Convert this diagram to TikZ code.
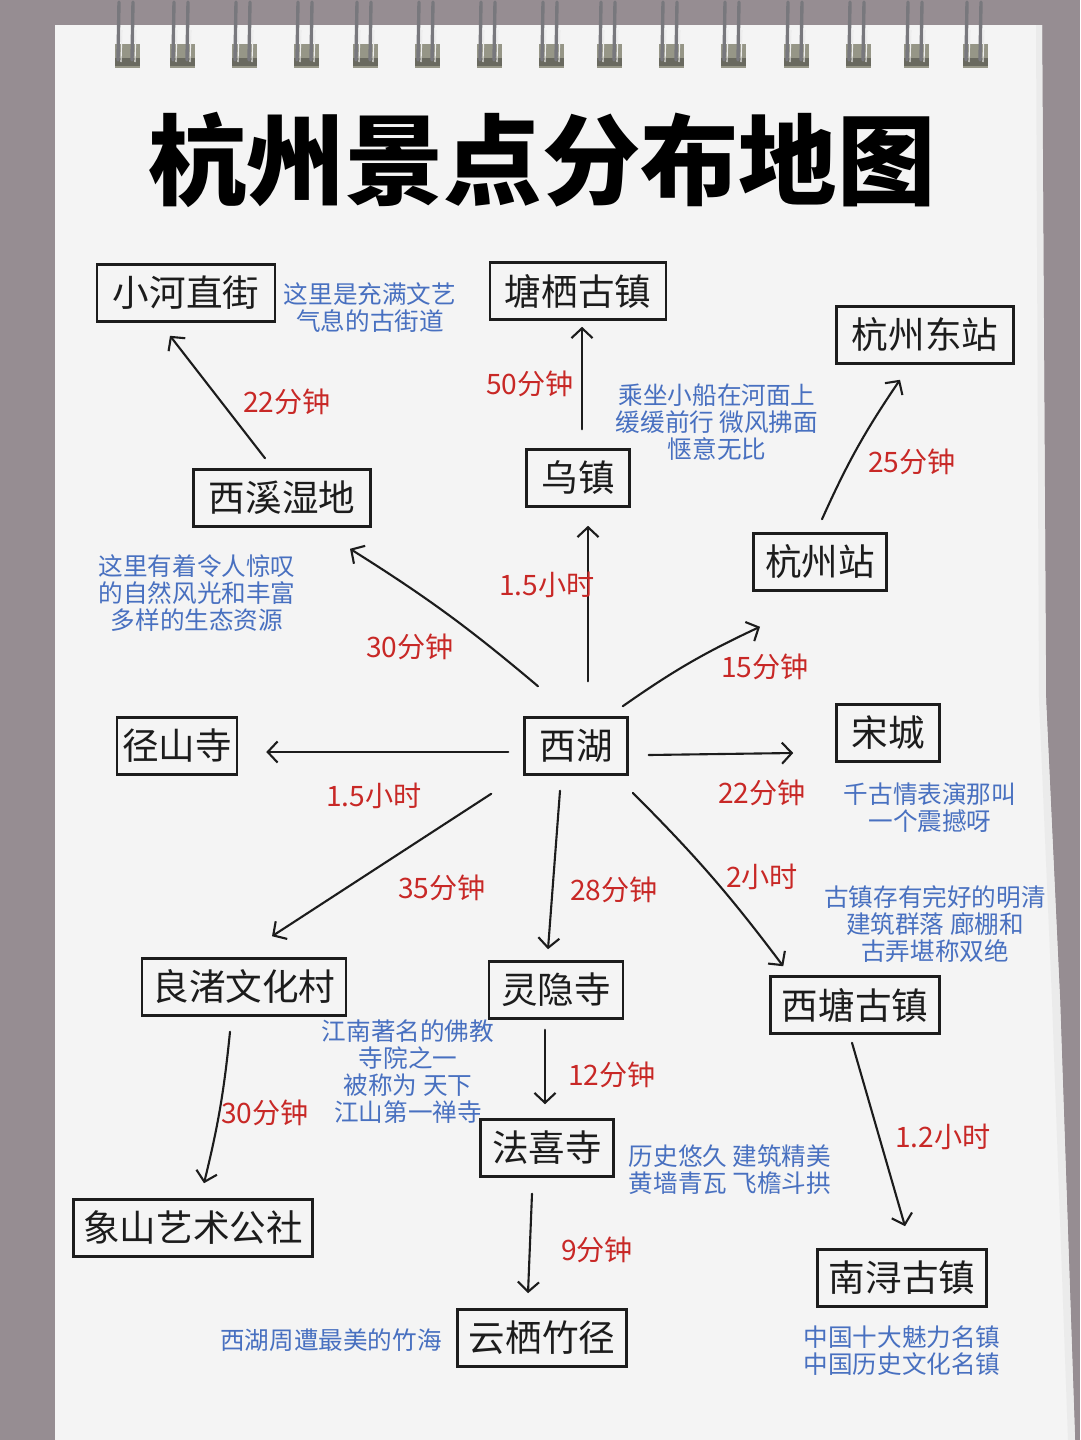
\documentclass[tikz,border=0pt]{standalone}
\usepackage{fontspec}
\setmainfont{Noto Sans CJK SC}
\usetikzlibrary{arrows.meta,calc}
\definecolor{bg}{RGB}{150,141,146}
\definecolor{paper}{RGB}{244,244,244}
\definecolor{lbred}{RGB}{200,40,38}
\definecolor{noteblue}{RGB}{72,112,192}
\definecolor{ink}{RGB}{28,28,28}
\definecolor{wirecol}{RGB}{120,120,125}
\definecolor{clipcol}{RGB}{150,150,135}
\begin{document}
\begin{tikzpicture}[x=0.025cm,y=-0.025cm,
  place/.style={draw=ink,line width=1.8pt,text=ink,font=\fontsize{26}{30}\selectfont,
    minimum height=1.425cm,inner xsep=3pt,inner ysep=2pt},
  bw/.style={minimum width={#1*0.025cm}},
  timelbl/.style={text=lbred,font=\fontsize{20}{24}\selectfont,inner sep=0pt},
  note/.style={text=noteblue,font=\fontsize{17.5}{19.2}\selectfont,align=center,inner sep=0pt},
  arr/.style={draw=ink,line width=1.5pt,line cap=round,-{Straight Barb[length=7pt,width=15pt,line width=1.5pt]}}]
% background and paper
\fill[bg] (0,0) rectangle (1080,1440);
\fill[paper] (55,25) -- (1042,25) -- (1046,700) -- (1060,1000) -- (1075,1440) -- (55,1440) -- cycle;
\fill[black!8] (1036,25) -- (1042,25) -- (1046,700) -- (1060,1000) -- (1075,1440) -- (1068,1440) -- (1052,1000) -- (1039,700) -- cycle;
% spiral rings
\foreach \rx in {128,183,245,307,366,428,490,552,610,672,734,797,859,917,976}{
  \fill[clipcol] (\rx-13,44) rectangle (\rx+12,68);
  \fill[clipcol!70!black] (\rx-13,58) rectangle (\rx+12,66);
  \draw[wirecol,line width=2.4pt,line cap=round] (\rx-9,2) -- (\rx-10,60);
  \draw[wirecol,line width=2.4pt,line cap=round] (\rx+5,2) -- (\rx+4,60);
  \draw[white!85!gray,line width=0.8pt] (\rx-6,30) -- (\rx-7,62);
  \draw[white!85!gray,line width=0.8pt] (\rx+8,30) -- (\rx+7,62);
}
% title
\node[font=\fontsize{70}{80}\selectfont\bfseries,text=black] (title) at (542,160) {杭州景点分布地图};
% places
\node[place,bw=178] (xiaohe) at (186,293) {小河直街};
\node[place,bw=176] (tangqi) at (578,291) {塘栖古镇};
\node[place,bw=177] (dongzhan) at (925,335) {杭州东站};
\node[place,bw=177] (xixi) at (282,498) {西溪湿地};
\node[place,bw=103] (wuzhen) at (578,478) {乌镇};
\node[place,bw=133] (hzzhan) at (820,562) {杭州站};
\node[place,bw=120] (jingshan) at (177,746) {径山寺};
\node[place,bw=103] (xihu) at (576,746) {西湖};
\node[place,bw=103] (songcheng) at (888,733) {宋城};
\node[place,bw=204] (liangzhu) at (244,987) {良渚文化村};
\node[place,bw=134] (lingyin) at (556,990) {灵隐寺};
\node[place,bw=169] (xitang) at (855,1005) {西塘古镇};
\node[place,bw=133] (faxi) at (547,1148) {法喜寺};
\node[place,bw=239] (xiangshan) at (193,1228) {象山艺术公社};
\node[place,bw=169] (yunqi) at (542,1338) {云栖竹径};
\node[place,bw=169] (nanxun) at (902,1278) {南浔古镇};
% connectors
\draw[arr] ($(xixi.north)+(-17,-10)$) -- ($(xiaohe.south)+(-16,13)$);
\draw[arr] ($(wuzhen.north)+(4,-19)$) -- ($(tangqi.south)+(4,6)$);
\draw[arr] ($(hzzhan.north)+(2,-13)$) to[bend left=5] ($(dongzhan.south)+(-25,15)$);
\draw[arr] ($(xihu.north)+(-38,-30)$) to[bend right=4] ($(xixi.south)+(68,21)$);
\draw[arr] ($(xihu.north)+(12,-35)$) -- ($(wuzhen.south)+(10,18)$);
\draw[arr] ($(xihu.north east)+(-6,-10)$) to[bend left=5] ($(hzzhan.south)+(-60,35)$);
\draw[arr] ($(xihu.west)+(-15,6)$) -- ($(jingshan.east)+(28,6)$);
\draw[arr] ($(xihu.east)+(20,9)$) -- ($(songcheng.west)+(-42,20)$);
\draw[arr] ($(xihu.south west)+(-32,18)$) -- ($(liangzhu.north)+(28,-21)$);
\draw[arr] ($(xihu.south)+(-16,15)$) -- ($(lingyin.north)+(-8,-11)$);
\draw[arr] ($(xihu.south east)+(4,17)$) to[bend left=4] ($(xitang.north west)+(14,-9)$);
\draw[arr] ($(liangzhu.south)+(-14,15)$) to[bend left=4] ($(xiangshan.north)+(11,-15)$);
\draw[arr] ($(lingyin.south)+(-11,10)$) -- ($(faxi.north)+(-2,-14)$);
\draw[arr] ($(faxi.south)+(-15,16)$) -- ($(yunqi.north)+(-14,-15)$);
\draw[arr] ($(xitang.south)+(-3,8)$) -- ($(nanxun.north)+(3,-22)$);
% travel times
\node[timelbl] (t1) at (287,402) {22分钟};
\node[timelbl] (t2) at (530,384) {50分钟};
\node[timelbl] (t3) at (912,462) {25分钟};
\node[timelbl] (t4) at (410,647) {30分钟};
\node[timelbl] (t5) at (547,585) {1.5小时};
\node[timelbl] (t6) at (765,667) {15分钟};
\node[timelbl] (t7) at (374,796) {1.5小时};
\node[timelbl] (t8) at (762,793) {22分钟};
\node[timelbl] (t9) at (442,888) {35分钟};
\node[timelbl] (t10) at (614,890) {28分钟};
\node[timelbl] (t11) at (762,877) {2小时};
\node[timelbl] (t12) at (265,1113) {30分钟};
\node[timelbl] (t13) at (612,1075) {12分钟};
\node[timelbl] (t14) at (597,1250) {9分钟};
\node[timelbl] (t15) at (943,1137) {1.2小时};
% notes
\node[note] (n1) at (370,308) {这里是充满文艺\\气息的古街道};
\node[note] (n2) at (717,422) {乘坐小船在河面上\\缓缓前行 微风拂面\\惬意无比};
\node[note] (n3) at (197,593) {这里有着令人惊叹\\的自然风光和丰富\\多样的生态资源};
\node[note] (n4) at (930,808) {千古情表演那叫\\一个震撼呀};
\node[note] (n5) at (935,924) {古镇存有完好的明清\\建筑群落 廊棚和\\古弄堪称双绝};
\node[note] (n6) at (408,1072) {江南著名的佛教\\寺院之一\\被称为 天下\\江山第一禅寺};
\node[note] (n7) at (730,1170) {历史悠久 建筑精美\\黄墙青瓦 飞檐斗拱};
\node[note] (n8) at (331,1340) {西湖周遭最美的竹海};
\node[note] (n9) at (902,1351) {中国十大魅力名镇\\中国历史文化名镇};
\end{tikzpicture}
\end{document}
